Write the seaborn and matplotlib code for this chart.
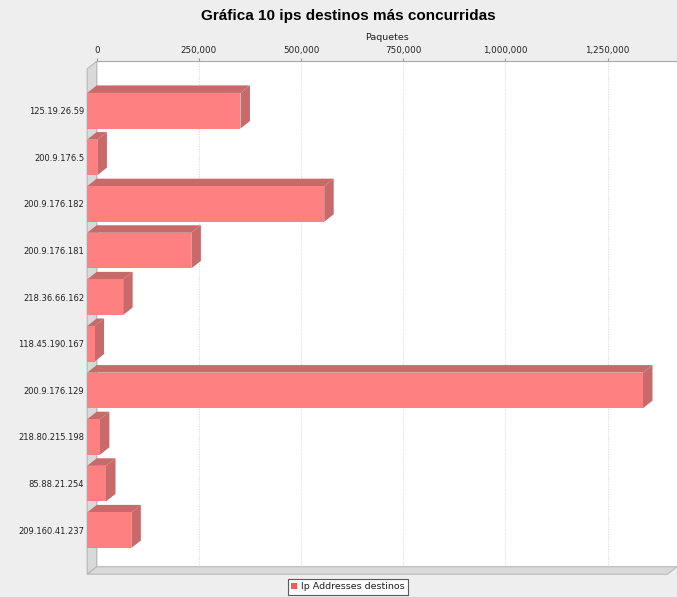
import pandas as pd
import seaborn as sns
import matplotlib.pyplot as plt
from matplotlib.patches import Polygon
from matplotlib.transforms import ScaledTranslation, IdentityTransform
from matplotlib.ticker import FuncFormatter

# data
ips = ["125.19.26.59", "200.9.176.5", "200.9.176.182", "200.9.176.181",
       "218.36.66.162", "118.45.190.167", "200.9.176.129", "218.80.215.198",
       "85.88.21.254", "209.160.41.237"]
paquetes = [375000, 25000, 580000, 255000, 88000, 18000, 1360000, 31000, 46000, 108000]
xticks = [0, 250000, 500000, 750000, 1000000, 1250000]
serie = "Ip Addresses destinos"

df = pd.DataFrame({"ip": ips, "paquetes": paquetes})

sns.set_style("white")
plt.rcParams['font.family'] = ['DejaVu Sans']

W, H = 677, 597
fig = plt.figure(figsize=(W / 100, H / 100), dpi=100, facecolor='#EEEEEE')

# back wall of the fake 3d plot, in pixels
L, R, T, B = 96.7, 677, 61.3, 566.7
DX, DY = 9.5, 7.5
ax = fig.add_axes([L / W, 1 - B / H, (R - L) / W, (B - T) / H])
ax.set_facecolor('white')

sns.barplot(data=df, x="paquetes", y="ip", orient="h", color='#FF8080',
            saturation=1, width=0.764, label=serie, linewidth=0, edgecolor='none', ax=ax)
if ax.get_legend() is not None:
    ax.get_legend().remove()

ax.set_xlim(0, 1420000)
ax.set_ylim(9.944, -0.90)
ax.set_xticks(xticks)
ax.xaxis.set_major_formatter(FuncFormatter(lambda v, p: f"{int(v):,}"))
ax.xaxis.tick_top()
ax.xaxis.set_label_position('top')
ax.set_xlabel("Paquetes", fontsize=6.8, color='#222222', labelpad=4)
ax.set_ylabel("")
ax.tick_params(axis='x', length=2, pad=2.5, labelsize=6.3, colors='#999999', labelcolor='#222222')
ax.tick_params(axis='y', length=0, pad=9, labelsize=6.0, labelcolor='#222222')
ax.grid(axis='x', color='#D8D8D8', linestyle=(0, (1.5, 1.5)), linewidth=0.6)
ax.set_axisbelow(True)
for s in ['left', 'right', 'bottom']:
    ax.spines[s].set_visible(False)
ax.spines['top'].set_color('#AAAAAA')
ax.spines['top'].set_linewidth(0.8)

# shift front faces and labels forward (left/down)
off = ScaledTranslation(-DX / 100, -DY / 100, fig.dpi_scale_trans)
for lab in ax.get_yticklabels():
    lab.set_transform(lab.get_transform() + ScaledTranslation(0, -DY / 100, fig.dpi_scale_trans))

# walls
px = IdentityTransform()
def pix(x, y):
    return (x, H - y)

wall = Polygon([pix(L, T), pix(L - DX, T + DY), pix(L - DX, B + DY), pix(L, B)],
               closed=True, transform=px, facecolor='#D9D9D9', edgecolor='#B8B8B8',
               linewidth=0.8, clip_on=False, zorder=0.8)
floor = Polygon([pix(L, B), pix(R, B), pix(R - DX, B + DY), pix(L - DX, B + DY)],
                closed=True, transform=px, facecolor='#D9D9D9', edgecolor='#B8B8B8',
                linewidth=0.8, clip_on=False, zorder=0.8)
ax.add_patch(wall)
ax.add_patch(floor)

fig.canvas.draw()
for p in list(ax.patches):
    if p in (wall, floor):
        continue
    x0, y0 = p.get_x(), p.get_y()
    x1, y1 = x0 + p.get_width(), y0 + p.get_height()
    p.set_transform(ax.transData + off)
    p.set_clip_on(False)
    p.set_zorder(3)
    (ax0, ay0) = ax.transData.transform((x0, y0))
    (ax1, ay1) = ax.transData.transform((x1, y1))
    # front face corners in display coords
    fx0, fx1 = ax0 - DX, ax1 - DX
    ftop, fbot = max(ay0, ay1) - DY, min(ay0, ay1) - DY
    top = Polygon([(fx0, ftop), (fx1, ftop), (fx1 + DX, ftop + DY), (fx0 + DX, ftop + DY)],
                  transform=px, facecolor='#C86A6A', edgecolor='none', clip_on=False, zorder=2.5)
    side = Polygon([(fx1, ftop), (fx1 + DX, ftop + DY), (fx1 + DX, fbot + DY), (fx1, fbot)],
                   transform=px, facecolor='#C86A6A', edgecolor='none', clip_on=False, zorder=2.5)
    ax.add_patch(top)
    ax.add_patch(side)

fig.text(348.5 / W, 1 - 16 / H, "Gráfica 10 ips destinos más concurridas",
         ha='center', va='center', fontsize=11, fontweight='bold', color='black',
         family=['Liberation Sans', 'DejaVu Sans'])

h, l = ax.get_legend_handles_labels()
leg = fig.legend(h[:1], l[:1], loc='upper center', bbox_to_anchor=(348 / W, 1 - 579 / H),
                 fontsize=6.8, frameon=True, fancybox=False, edgecolor='#333333',
                 handlelength=0.6, handleheight=0.6, handletextpad=0.4,
                 borderpad=0.35, borderaxespad=0, labelcolor='#222222')
leg.get_frame().set_linewidth(0.8)
leg.get_frame().set_facecolor('white')
for hd in leg.legend_handles:
    hd.set_color('#FF5555')

fig.savefig("out.png", dpi=100, facecolor=fig.get_facecolor())
